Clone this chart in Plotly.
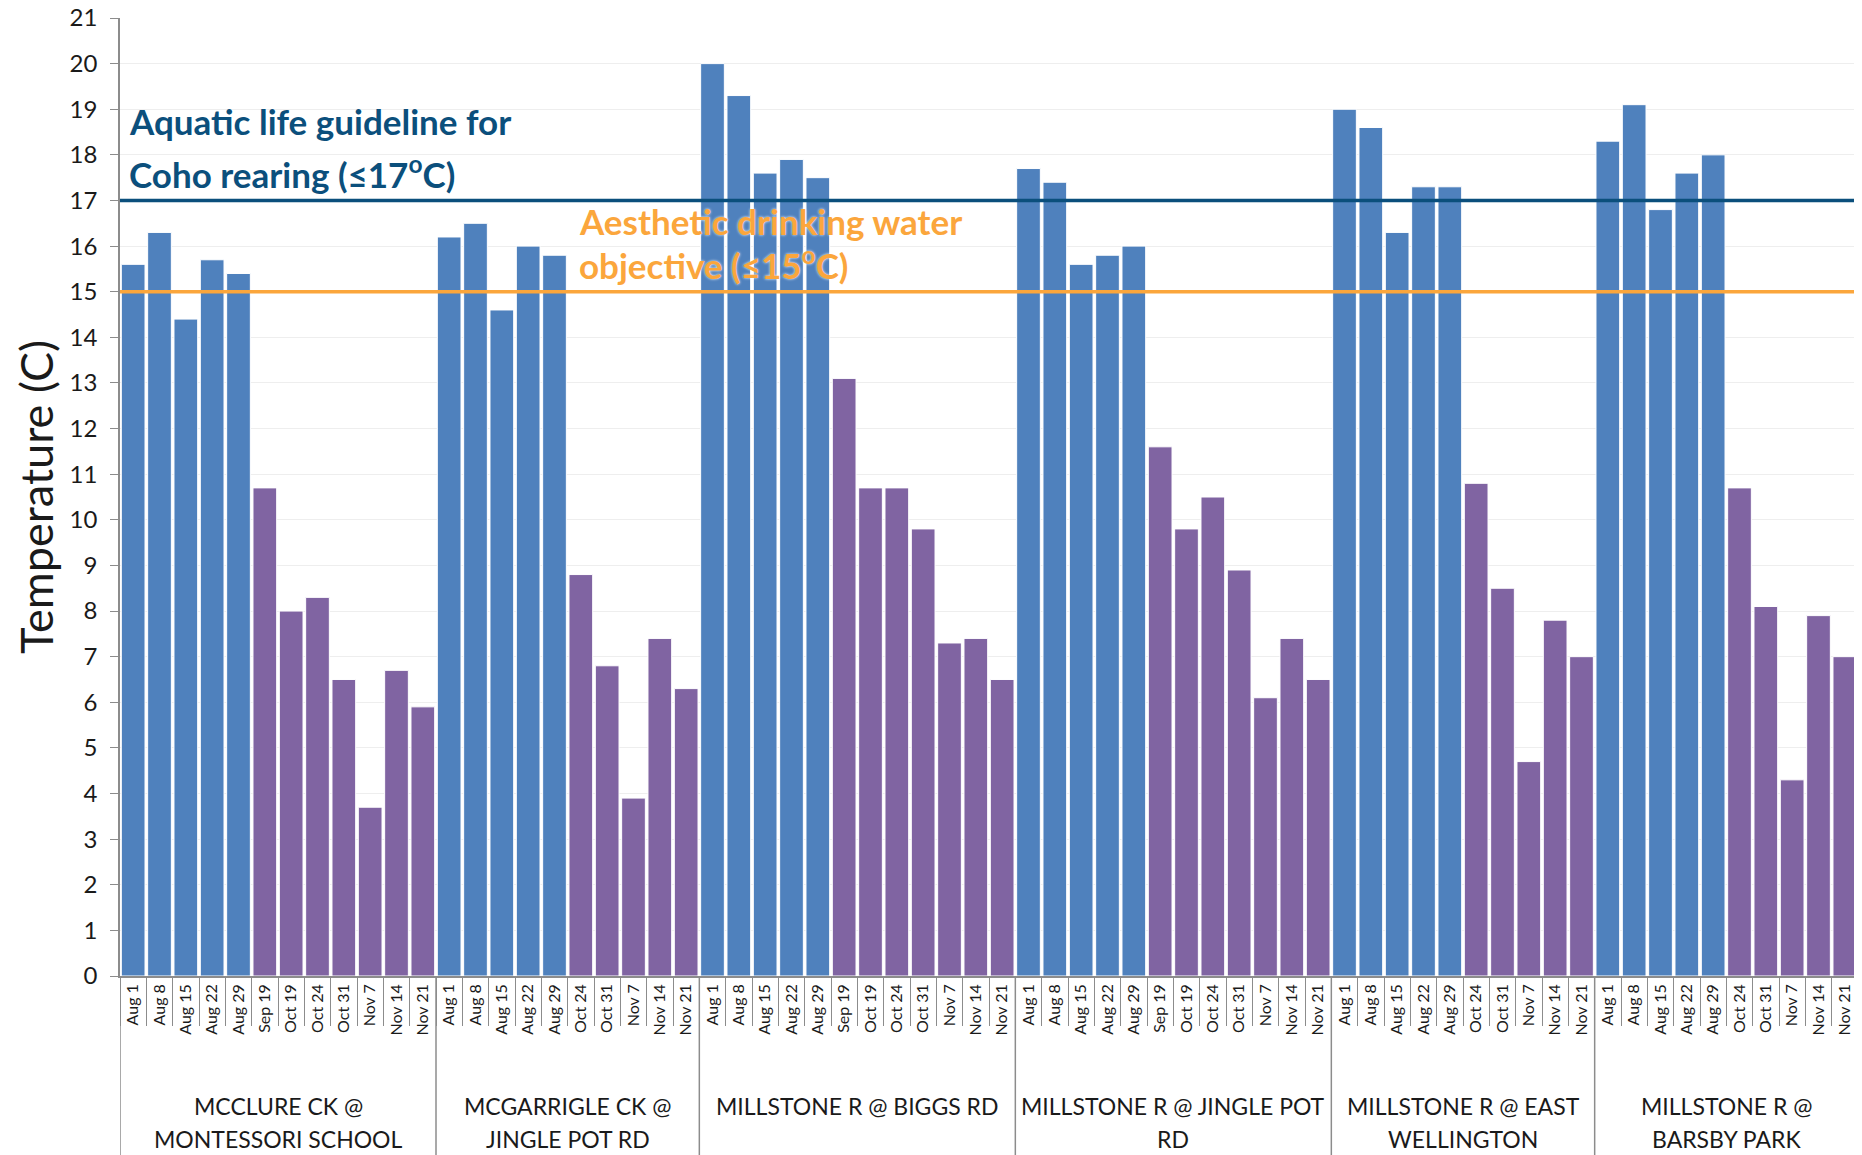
import plotly.graph_objects as go

# ---- data ----
sites = [
    "MCCLURE CK @<br>MONTESSORI SCHOOL",
    "MCGARRIGLE CK @<br>JINGLE POT RD",
    "MILLSTONE R @ BIGGS RD",
    "MILLSTONE R @ JINGLE POT<br>RD",
    "MILLSTONE R @ EAST<br>WELLINGTON",
    "MILLSTONE R @<br>BARSBY PARK",
]
dates_long = ["Aug 1", "Aug 8", "Aug 15", "Aug 22", "Aug 29", "Sep 19",
              "Oct 19", "Oct 24", "Oct 31", "Nov 7", "Nov 14", "Nov 21"]
dates_short = ["Aug 1", "Aug 8", "Aug 15", "Aug 22", "Aug 29",
               "Oct 24", "Oct 31", "Nov 7", "Nov 14", "Nov 21"]
site_dates = [dates_long, dates_short, dates_long, dates_long, dates_short, dates_short]

temp_mcclure = [15.6, 16.3, 14.4, 15.7, 15.4, 10.7, 8.0, 8.3, 6.5, 3.7, 6.7, 5.9]
temp_mcgarrigle = [16.2, 16.5, 14.6, 16.0, 15.8, 8.8, 6.8, 3.9, 7.4, 6.3]
temp_biggs = [20.0, 19.3, 17.6, 17.9, 17.5, 13.1, 10.7, 10.7, 9.8, 7.3, 7.4, 6.5]
temp_jinglepot = [17.7, 17.4, 15.6, 15.8, 16.0, 11.6, 9.8, 10.5, 8.9, 6.1, 7.4, 6.5]
temp_eastwell = [19.0, 18.6, 16.3, 17.3, 17.3, 10.8, 8.5, 4.7, 7.8, 7.0]
temp_barsby = [18.3, 19.1, 16.8, 17.6, 18.0, 10.7, 8.1, 4.3, 7.9, 7.0]
site_temps = [temp_mcclure, temp_mcgarrigle, temp_biggs, temp_jinglepot, temp_eastwell, temp_barsby]

coho_limit = 17
drinking_limit = 15
y_ticks = list(range(0, 22))

# ---- styles ----
BLUE = "#4F81BD"
PURPLE = "#8064A2"
DARKBLUE = "#0B4F7C"
ORANGE = "#FBA63C"
AXIS = "#8c8c8c"
TXT = "#1a1a1a"
FONT = "Lato"

# ---- build ----
pos, labels, vals, colors = [], [], [], []
group_bounds = [-0.5]
group_centers = []
i = 0
for s, ds, ts in zip(sites, site_dates, site_temps):
    start = i
    for d, t in zip(ds, ts):
        pos.append(i)
        labels.append(d)
        vals.append(t)
        colors.append(BLUE if d.startswith("Aug") else PURPLE)
        i += 1
    group_centers.append((start + i - 1) / 2)
    group_bounds.append(i - 0.5)
n = i

fig = go.Figure()
fig.add_trace(go.Bar(
    x=pos, y=vals, width=0.9,
    marker=dict(color=colors, line=dict(color="white", width=1)),
    hovertext=labels, hoverinfo="text+y",
))

# guideline lines
fig.add_shape(type="line", xref="paper", x0=0, x1=1, yref="y",
              y0=coho_limit, y1=coho_limit,
              line=dict(color=DARKBLUE, width=3.5), layer="above")
fig.add_shape(type="line", xref="paper", x0=0, x1=1, yref="y",
              y0=drinking_limit, y1=drinking_limit,
              line=dict(color=ORANGE, width=3.5), layer="above")

# group dividers
for b in group_bounds:
    fig.add_shape(type="line", xref="x", x0=b, x1=b, yref="paper", y0=0, y1=-0.2,
                  line=dict(color=AXIS, width=1.5), layer="above")

# group labels
for c, s in zip(group_centers, sites):
    lines = s.split("<br>")
    for k, ln in enumerate(lines):
        fig.add_annotation(text=ln, xref="x", x=c, xanchor="center",
                           yref="paper", y=-0.1357 - k * 0.0345, yanchor="middle",
                           showarrow=False, font=dict(family=FONT, size=23, color=TXT))

afont_b = dict(family=FONT, size=35, color=DARKBLUE, weight="bold")
fig.add_annotation(text="Aquatic life guideline for", xref="paper", x=0.004, xanchor="left",
                   yref="y", y=18.74, yanchor="middle", showarrow=False, font=afont_b)
fig.add_annotation(text="Coho rearing (≤17<sup>o</sup>C)", xref="paper", x=0.004, xanchor="left",
                   yref="y", y=17.62, yanchor="middle", showarrow=False, font=afont_b)
afont_o = dict(family=FONT, size=35, color=ORANGE, weight="bold",
               shadow="0px 0px 3px white")
fig.add_annotation(text="Aesthetic drinking water", xref="paper", x=0.263, xanchor="left",
                   yref="y", y=16.55, yanchor="middle", showarrow=False, font=afont_o)
fig.add_annotation(text="objective (≤15<sup>o</sup>C)", xref="paper", x=0.263, xanchor="left",
                   yref="y", y=15.62, yanchor="middle", showarrow=False, font=afont_o)

# page body has an 8px margin: compensate so the plot area lands where the reference has it
fig.update_layout(
    width=1862, height=1155,
    margin=dict(l=112, r=12, t=10, b=187),
    plot_bgcolor="white", paper_bgcolor="white",
    showlegend=False,
    font=dict(family=FONT, color=TXT),
)
fig.update_yaxes(
    range=[0, 21], tickvals=y_ticks, ticks="outside", ticklen=8, tickcolor=AXIS,
    showline=True, linecolor=AXIS, linewidth=1.5, automargin=False,
    showgrid=True, gridcolor="#EEEEEE", gridwidth=1.2, ticklabelstandoff=8,
    ticklabeloverflow="allow",
    tickfont=dict(size=24, color=TXT), zeroline=False,
    title=dict(text="Temperature (C)", font=dict(size=45, color=TXT), standoff=2),
)
fig.update_xaxes(
    range=[-0.5, n - 0.5], tickvals=pos, ticktext=labels, tickangle=-90,
    ticks="", automargin=False, ticklabeloverflow="allow",
    minor=dict(tickvals=group_bounds[:1] + [p + 0.5 for p in pos], ticks="outside",
               ticklen=48, tickcolor=AXIS, tickwidth=1, showgrid=False),
    showline=True, linecolor=AXIS, linewidth=1.5,
    tickfont=dict(size=16, color=TXT), showgrid=False, zeroline=False,
)

fig.write_html("out.html")
